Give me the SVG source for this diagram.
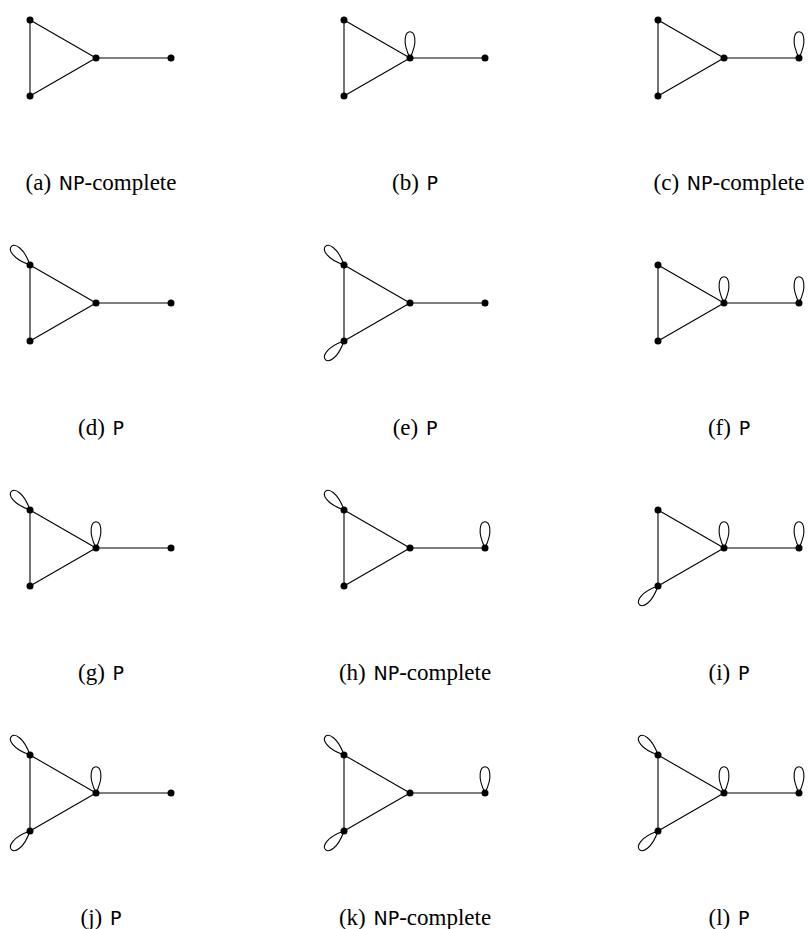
<svg xmlns="http://www.w3.org/2000/svg" xmlns:xlink="http://www.w3.org/1999/xlink" width="808" height="929" viewBox="0 0 808 929">
<style>
.e{stroke:#000;stroke-width:1.1;fill:none}
.l{stroke:#000;stroke-width:1.1;fill:none}
.n{fill:#000}
.lab{font-family:"Liberation Serif","Times New Roman",serif;font-size:23px;fill:#000}
.sf{font-family:"DejaVu Sans","Liberation Sans",sans-serif;font-size:19px}
</style>
<defs>
<path id="loop" class="l" d="M0,0 C-17,-35 17,-35 0,0"/>
<g id="tri">
<line class="e" x1="30" y1="20" x2="30" y2="96"/>
<line class="e" x1="30" y1="20" x2="96" y2="58"/>
<line class="e" x1="30" y1="96" x2="96" y2="58"/>
<line class="e" x1="96" y1="58" x2="171" y2="58"/>
</g>
</defs>
<!-- row 1 -->
<g id="panel-a">
<g id="a-connectors"><use xlink:href="#tri"/></g>
<g id="a-n1"><circle class="n" cx="30" cy="20" r="3.5"/></g>
<g id="a-n2"><circle class="n" cx="30" cy="96" r="3.5"/></g>
<g id="a-n3"><circle class="n" cx="96" cy="58" r="3.5"/></g>
<g id="a-n4"><circle class="n" cx="171" cy="58" r="3.5"/></g>
<text class="lab" x="101" y="190" text-anchor="middle">(a) <tspan class="sf" dx="2">NP</tspan>-complete</text>
</g>
<g id="panel-b" transform="translate(314,0)">
<g id="b-connectors"><use xlink:href="#tri"/><use xlink:href="#loop" transform="translate(96,58)"/></g>
<g id="b-n1"><circle class="n" cx="30" cy="20" r="3.5"/></g>
<g id="b-n2"><circle class="n" cx="30" cy="96" r="3.5"/></g>
<g id="b-n3"><circle class="n" cx="96" cy="58" r="3.5"/></g>
<g id="b-n4"><circle class="n" cx="171" cy="58" r="3.5"/></g>
<text class="lab" x="101" y="190" text-anchor="middle">(b) <tspan class="sf" dx="2">P</tspan></text>
</g>
<g id="panel-c" transform="translate(628,0)">
<g id="c-connectors"><use xlink:href="#tri"/><use xlink:href="#loop" transform="translate(171,58)"/></g>
<g id="c-n1"><circle class="n" cx="30" cy="20" r="3.5"/></g>
<g id="c-n2"><circle class="n" cx="30" cy="96" r="3.5"/></g>
<g id="c-n3"><circle class="n" cx="96" cy="58" r="3.5"/></g>
<g id="c-n4"><circle class="n" cx="171" cy="58" r="3.5"/></g>
<text class="lab" x="101" y="190" text-anchor="middle">(c) <tspan class="sf" dx="2">NP</tspan>-complete</text>
</g>
<!-- row 2 -->
<g id="panel-d" transform="translate(0,245)">
<g id="d-connectors"><use xlink:href="#tri"/><use xlink:href="#loop" transform="translate(30,20) rotate(-45)"/></g>
<g id="d-n1"><circle class="n" cx="30" cy="20" r="3.5"/></g>
<g id="d-n2"><circle class="n" cx="30" cy="96" r="3.5"/></g>
<g id="d-n3"><circle class="n" cx="96" cy="58" r="3.5"/></g>
<g id="d-n4"><circle class="n" cx="171" cy="58" r="3.5"/></g>
<text class="lab" x="101" y="190" text-anchor="middle">(d) <tspan class="sf" dx="2">P</tspan></text>
</g>
<g id="panel-e" transform="translate(314,245)">
<g id="e-connectors"><use xlink:href="#tri"/><use xlink:href="#loop" transform="translate(30,20) rotate(-45)"/><use xlink:href="#loop" transform="translate(30,96) rotate(-135)"/></g>
<g id="e-n1"><circle class="n" cx="30" cy="20" r="3.5"/></g>
<g id="e-n2"><circle class="n" cx="30" cy="96" r="3.5"/></g>
<g id="e-n3"><circle class="n" cx="96" cy="58" r="3.5"/></g>
<g id="e-n4"><circle class="n" cx="171" cy="58" r="3.5"/></g>
<text class="lab" x="101" y="190" text-anchor="middle">(e) <tspan class="sf" dx="2">P</tspan></text>
</g>
<g id="panel-f" transform="translate(628,245)">
<g id="f-connectors"><use xlink:href="#tri"/><use xlink:href="#loop" transform="translate(96,58)"/><use xlink:href="#loop" transform="translate(171,58)"/></g>
<g id="f-n1"><circle class="n" cx="30" cy="20" r="3.5"/></g>
<g id="f-n2"><circle class="n" cx="30" cy="96" r="3.5"/></g>
<g id="f-n3"><circle class="n" cx="96" cy="58" r="3.5"/></g>
<g id="f-n4"><circle class="n" cx="171" cy="58" r="3.5"/></g>
<text class="lab" x="101" y="190" text-anchor="middle">(f) <tspan class="sf" dx="2">P</tspan></text>
</g>
<!-- row 3 -->
<g id="panel-g" transform="translate(0,490)">
<g id="g-connectors"><use xlink:href="#tri"/><use xlink:href="#loop" transform="translate(30,20) rotate(-45)"/><use xlink:href="#loop" transform="translate(96,58)"/></g>
<g id="g-n1"><circle class="n" cx="30" cy="20" r="3.5"/></g>
<g id="g-n2"><circle class="n" cx="30" cy="96" r="3.5"/></g>
<g id="g-n3"><circle class="n" cx="96" cy="58" r="3.5"/></g>
<g id="g-n4"><circle class="n" cx="171" cy="58" r="3.5"/></g>
<text class="lab" x="101" y="190" text-anchor="middle">(g) <tspan class="sf" dx="2">P</tspan></text>
</g>
<g id="panel-h" transform="translate(314,490)">
<g id="h-connectors"><use xlink:href="#tri"/><use xlink:href="#loop" transform="translate(30,20) rotate(-45)"/><use xlink:href="#loop" transform="translate(171,58)"/></g>
<g id="h-n1"><circle class="n" cx="30" cy="20" r="3.5"/></g>
<g id="h-n2"><circle class="n" cx="30" cy="96" r="3.5"/></g>
<g id="h-n3"><circle class="n" cx="96" cy="58" r="3.5"/></g>
<g id="h-n4"><circle class="n" cx="171" cy="58" r="3.5"/></g>
<text class="lab" x="101" y="190" text-anchor="middle">(h) <tspan class="sf" dx="2">NP</tspan>-complete</text>
</g>
<g id="panel-i" transform="translate(628,490)">
<g id="i-connectors"><use xlink:href="#tri"/><use xlink:href="#loop" transform="translate(30,96) rotate(-135)"/><use xlink:href="#loop" transform="translate(96,58)"/><use xlink:href="#loop" transform="translate(171,58)"/></g>
<g id="i-n1"><circle class="n" cx="30" cy="20" r="3.5"/></g>
<g id="i-n2"><circle class="n" cx="30" cy="96" r="3.5"/></g>
<g id="i-n3"><circle class="n" cx="96" cy="58" r="3.5"/></g>
<g id="i-n4"><circle class="n" cx="171" cy="58" r="3.5"/></g>
<text class="lab" x="101" y="190" text-anchor="middle">(i) <tspan class="sf" dx="2">P</tspan></text>
</g>
<!-- row 4 -->
<g id="panel-j" transform="translate(0,735)">
<g id="j-connectors"><use xlink:href="#tri"/><use xlink:href="#loop" transform="translate(30,20) rotate(-45)"/><use xlink:href="#loop" transform="translate(30,96) rotate(-135)"/><use xlink:href="#loop" transform="translate(96,58)"/></g>
<g id="j-n1"><circle class="n" cx="30" cy="20" r="3.5"/></g>
<g id="j-n2"><circle class="n" cx="30" cy="96" r="3.5"/></g>
<g id="j-n3"><circle class="n" cx="96" cy="58" r="3.5"/></g>
<g id="j-n4"><circle class="n" cx="171" cy="58" r="3.5"/></g>
<text class="lab" x="101" y="190" text-anchor="middle">(j) <tspan class="sf" dx="2">P</tspan></text>
</g>
<g id="panel-k" transform="translate(314,735)">
<g id="k-connectors"><use xlink:href="#tri"/><use xlink:href="#loop" transform="translate(30,20) rotate(-45)"/><use xlink:href="#loop" transform="translate(30,96) rotate(-135)"/><use xlink:href="#loop" transform="translate(171,58)"/></g>
<g id="k-n1"><circle class="n" cx="30" cy="20" r="3.5"/></g>
<g id="k-n2"><circle class="n" cx="30" cy="96" r="3.5"/></g>
<g id="k-n3"><circle class="n" cx="96" cy="58" r="3.5"/></g>
<g id="k-n4"><circle class="n" cx="171" cy="58" r="3.5"/></g>
<text class="lab" x="101" y="190" text-anchor="middle">(k) <tspan class="sf" dx="2">NP</tspan>-complete</text>
</g>
<g id="panel-l" transform="translate(628,735)">
<g id="l-connectors"><use xlink:href="#tri"/><use xlink:href="#loop" transform="translate(30,20) rotate(-45)"/><use xlink:href="#loop" transform="translate(30,96) rotate(-135)"/><use xlink:href="#loop" transform="translate(96,58)"/><use xlink:href="#loop" transform="translate(171,58)"/></g>
<g id="l-n1"><circle class="n" cx="30" cy="20" r="3.5"/></g>
<g id="l-n2"><circle class="n" cx="30" cy="96" r="3.5"/></g>
<g id="l-n3"><circle class="n" cx="96" cy="58" r="3.5"/></g>
<g id="l-n4"><circle class="n" cx="171" cy="58" r="3.5"/></g>
<text class="lab" x="101" y="190" text-anchor="middle">(l) <tspan class="sf" dx="2">P</tspan></text>
</g>
</svg>
